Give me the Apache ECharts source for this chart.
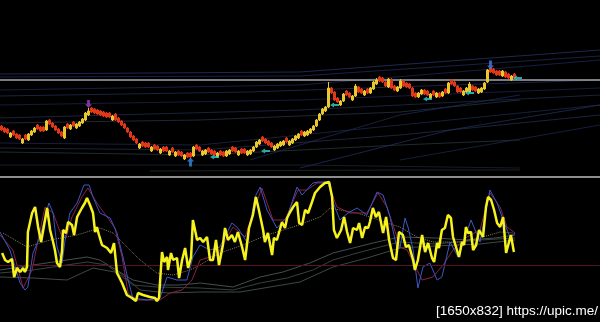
<!DOCTYPE html>
<html><head><meta charset="utf-8">
<script src="https://cdn.jsdelivr.net/npm/echarts@6.0.0/dist/echarts.min.js"></script>
<style>html,body{margin:0;padding:0;background:#000;}#c{width:600px;height:322px;}</style>
</head><body><div id="c"></div>
<script>
// ---- candle data (bar index 0..171) ----
const opens = [74,72,71,63,69,66,65,57,65,60, 65,68,75,73,73,70,80,77,74,71, 68,62,76,71,78,72,74,77,80,85,
 92,91,90,89,88,87,87,80,86,82, 79,76,72,68,64,61,52,58,57,57, 49,55,54,47,53,53,45,52,44,49,
 48,41,47,47,44,55,53,45,46,52, 50,49,43,49,48,44,46,53,52,45, 51,51,45,46,49,53,56,63,61,59,
 57,50,52,54,55,62,55,57,60,62, 69,64,65,67,70,74,80,86,89,93, 112,108,102,95,99,109,107,100,104,113,
 111,105,111,107,111,116,123,122,118,113, 120,114,109,112,119,117,116,112,107,103, 106,110,109,102,109,103,107,104,111,107,
 120,118,114,112,105,108,108,114,113,107, 108,111,118,132,131,129,129,124,128,126, 120,126];
const closes = [70,68,67,67,65,62,61,61,61,66, 69,72,71,69,69,79,76,73,70,67, 64,73,72,75,74,76,78,81,87,89,
 88,87,86,85,84,83,83,84,80,78, 75,72,68,63,60,57,56,54,53,53, 53,51,50,51,49,49,49,48,48,45,
 44,45,43,43,53,51,49,49,50,48, 46,45,47,45,44,49,50,49,48,49, 47,47,49,50,53,58,60,59,57,55,
 53,54,56,58,59,58,59,61,64,66, 65,68,69,71,74,80,86,91,93,112, 107,100,98,99,106,105,103,104,114,108,
 107,109,107,112,118,120,119,118,114,121, 112,110,113,119,114,113,112,104,103,107, 110,106,105,106,105,107,103,108,107,117,
 116,114,108,108,109,112,116,110,109,111, 112,117,130,128,127,125,125,129,123,122, 124,122];
const lows = [69,67,66,62,64,61,60,56,60,59, 64,67,70,68,68,69,75,72,69,66, 63,61,71,70,73,71,73,76,79,84,
 87,86,85,84,83,82,82,79,79,77, 74,71,67,62,59,56,51,53,52,52, 48,50,49,46,48,48,44,47,43,44,
 43,40,42,41,43,50,48,44,45,47, 45,44,42,44,43,43,45,48,47,44, 46,46,44,45,48,52,55,58,56,54,
 52,49,51,53,54,57,54,56,59,61, 64,63,64,66,69,73,79,85,88,92, 106,99,97,94,98,104,102,99,103,107,
 106,104,106,106,110,115,118,117,113,112, 111,109,108,111,113,112,111,103,102,102, 105,105,104,101,104,102,102,103,106,106,
 115,113,107,107,104,107,107,109,108,106, 107,110,117,127,126,124,124,123,122,121, 119,121];
const highs = [75,73,72,68,70,67,66,62,66,67, 70,73,76,74,74,80,81,78,75,72, 69,74,77,76,79,77,79,82,88,92,
 93,92,91,90,89,88,88,85,87,83, 80,77,73,69,65,62,57,59,58,58, 54,56,55,52,54,54,50,53,49,50,
 49,46,48,48,54,56,54,50,51,53, 51,50,48,50,49,50,51,54,53,50, 52,52,50,51,54,59,61,64,62,60,
 58,55,57,59,60,63,60,62,65,67, 70,69,70,72,75,81,87,92,94,118, 113,109,103,100,107,110,108,105,116,114,
 112,110,112,113,119,122,124,123,119,122, 122,115,114,121,120,118,117,113,108,108, 111,111,110,107,110,108,108,109,112,118,
 121,119,115,113,110,113,118,115,114,112, 113,118,131,133,132,130,130,130,129,127, 125,127];

// signal arrows [bar, price]
const upArrows = [[63,38]];
const downArrows = [[163,135]];
const peakMarks = [[29,96]];
const sideArrows = [[71,43],[88,49],[111,95],[142,101],[156,107],[172,122]];

// faint channel / average lines [bar, price]
const chanA = [[0,126],[100,128],[200,150]];
const chanB = [[0,123],[100,124],[200,144]];
const chanC = [[0,110],[100,115],[200,140]];
const chanD = [[0,104],[83,108],[200,120]];
const chanE = [[0,95],[100,100],[200,112]];
const chanF = [[0,82],[100,90],[200,105]];
const chanG = [[0,77],[66.7,80],[133.3,88],[173.3,100]];
const chanH = [[0,57],[66.7,55],[133.3,75],[200,95]];
const chanI = [[0,52],[66.7,50],[133.3,65],[200,85]];
const chanJ = [[0,48],[66.7,45],[133.3,55],[173.3,60]];
const chanK = [[0,35],[100,35],[173.3,32]];
const chanL = [[50,29],[133.3,30],[173.3,30]];
const chanM = [[83.3,40],[133.3,85],[173.3,105]];
const chanN = [[100,32],[150,70],[200,95]];
const chanO = [[133.3,40],[200,75]];
const refLevel = 120;

// oscillator panel [bar, value]
const yellowOsc = [[0.7,57],[1.7,50],[2.7,48],[4,51],[4.7,33],[5.7,42],[6.7,38],[7.7,42],[8.3,38],[9,43],[9.3,78],[10.7,97],[11.7,103],[12.7,83],[13.7,68],[14.3,78],[15.7,102],[16.7,80],[17.7,68],[18.3,60],[19,47],[20,43],[20.7,60],[21,80],[22,77],[22.7,88],[24,85],[24.7,75],[25.7,93],[27.3,102],[28.3,107],[29,112],[30,105],[31,97],[31.7,78],[32.3,83],[33,75],[34,65],[35.7,62],[37,57],[38,67],[39,37],[40.7,27],[42.3,15],[44,12],[45.3,9],[46,17],[47.7,15],[50,13],[51.7,12],[52.3,9],[53,12],[54,58],[54.7,48],[55.7,53],[56,40],[57,57],[57.7,50],[59,52],[59.7,32],[60.7,50],[61.7,62],[62.7,42],[63.7,53],[64.3,90],[65.7,70],[66.7,72],
 [67.7,68],[69,73],[70,50],[71,50],[72,70],[73,45],[74.3,65],[75,82],[76,70],[77.3,75],[78.3,68],[79.3,78],[80.7,63],[81.7,50],[83,82],[84.3,95],[85.3,113],[86.3,100],[87.7,80],[88.3,68],[89.3,77],[90.7,55],[91.3,72],[92.3,70],[94,88],[95,82],[95.7,92],[96.7,98],[97.7,103],[99,108],[99.7,87],[100.7,85],[101.7,100],[102.7,97],[104,108],[105,117],[106.7,123],[108.3,127],[109.7,128],[110.7,113],[111.3,80],[112.3,72],[113.7,80],[114.7,93],[115.7,78],[116.7,67],[117.7,82],[119,80],[119.7,87],[120.7,72],[121.7,83],[122.7,82],[123.3,88],[124.3,102],[125.3,93],[126.3,98],[127.7,77],[128.7,93],[129.7,70],[131,52],[132,50],[133,78],
 [134.3,75],[135.3,63],[136.3,65],[137.7,50],[138.3,40],[139.3,50],[140.7,75],[141.7,58],[142.7,67],[144,52],[144.7,48],[145.7,67],[146.3,62],[147.3,80],[148.3,82],[149.3,95],[150.3,92],[151,73],[152.3,60],[153,53],[154,68],[154.7,65],[155.3,83],[156,77],[157,78],[157.7,60],[158.7,65],[159.7,80],[161,73],[162,103],[162.7,113],[163.7,110],[164.7,100],[165.7,87],[166.7,83],[167.7,93],[168.7,57],[169.3,57],[170.3,75],[171.3,58]];
const blueOsc = [[0,78],[3.3,60],[6.7,27],[8.3,20],[9.3,23],[11,57],[13.3,73],[16.3,107],[17.7,97],[19,63],[20.7,47],[21.7,70],[23.3,97],[25.7,107],[28,125],[29.7,125],[31,113],[33.3,97],[36.7,92],[39,77],[41,53],[42.7,30],[44.3,12],[49,10],[53.3,12],[55.7,33],[59,30],[62.3,30],[64.3,53],[66.7,65],[70,60],[73.3,63],[77.3,87],[79.3,82],[82.3,68],[85,113],[86.7,123],[89,100],[92.3,82],[95.7,93],[99,123],[100.7,115],[104.3,127],[106,128],[109.3,128],[111,108],[113.3,90],[116,97],[119,102],[122.3,95],[125.7,118],[127.7,115],[130,93],[132.3,62],[133.3,62],[135,92],[136,83],[137.7,60],[139.3,22],[141,43],[143.3,47],[145.7,30],[147.3,33],[150,68],[152.7,53],[157,90],[160,68],[163.3,120],[165.7,107],[167.7,90],[170,73],[171.7,77]];
const redOsc = [[0,75],[4.3,60],[7.7,22],[10.7,40],[12.7,70],[15,103],[17.7,97],[20.7,73],[22.3,75],[24,93],[27.3,113],[29.3,122],[32.3,107],[35.7,93],[38.3,82],[40.7,53],[42.7,17],[45.7,10],[53.3,10],[56.7,17],[60.7,20],[64,30],[66.7,50],[72.3,55],[77.7,83],[81.7,73],[85,103],[87.3,122],[91,90],[95,90],[99.3,120],[102.3,120],[105.7,127],[109.3,127],[112.3,103],[116.7,97],[122.3,97],[126,117],[129,103],[132.3,73],[133.3,63],[135.7,60],[139,40],[140.7,30],[144.3,33],[147.7,45],[151,60],[155.7,73],[160,80],[163.3,117],[166.7,103],[169,83],[171.7,77]];
const dottedOsc = [[1,77],[9,63],[16.7,70],[25.7,75],[33.3,82],[37.7,77],[42.3,63],[46.7,50],[52.3,37],[57.7,35],[63.3,40],[66.7,45],[73.3,57],[81,65],[89,75],[97.7,83],[106.7,93],[110,102],[113.3,100],[119,97],[124.3,92],[129,87],[133.3,83],[139,73],[144.3,68],[153.3,68],[161,73],[166.7,78],[171,77]];
const grayOsc1 = [[0,40],[11,45],[29,53],[33.3,50],[44.3,30],[52.3,25],[60,25],[66.7,27],[77.7,23],[86.7,33],[94.3,38],[103.3,47],[111,57],[119,63],[125.7,68],[133.3,73],[145,72],[155.7,70],[165,72],[171.7,75]];
const grayOsc2 = [[0,37],[11,40],[29,48],[35.7,45],[44.3,25],[52.3,23],[66.7,22],[77.7,20],[86.7,27],[95.7,32],[104.3,40],[111,50],[119,57],[126.7,63],[133.3,68],[145,66],[160,70],[171.7,72]];
const grayOsc3 = [[0,33],[11,32],[22.3,30],[31,42],[40,37],[46.7,20],[55.7,17],[66.7,18],[80,18],[100,28],[111,43],[122.3,52],[133.3,62],[145,64],[160,66],[171.7,70]];
const oscLevel = 45;
const separatorLevel = 133;

const categories = Array.from({length:200}, (_, i) => String(i + 1));
const candles = opens.map((o, i) => [o, closes[i], lows[i], highs[i]]);

const chart = echarts.init(document.getElementById('c'), null, {renderer:'canvas'});
function faint(data, color) {
  return {type:'line', xAxisIndex:1, yAxisIndex:0, data, symbol:'none', silent:true,
    lineStyle:{color, width:1, opacity:0.75}, z:1};
}
function osc(data, color, width, type, z) {
  return {type:'line', xAxisIndex:2, yAxisIndex:1, data, symbol:'none', silent:true,
    lineStyle:{color, width, type: type || 'solid'}, z: z || 2};
}
const arrowPath = 'path://M5,0 L10,5 L7,5 L7,11 L3,11 L3,5 L0,5 Z';
chart.setOption({
  animation:false,
  backgroundColor:'#000',
  grid:[{left:0, right:0, top:40, height:137}, {left:0, right:0, top:177, height:133}],
  xAxis:[
    {type:'category', gridIndex:0, data:categories, boundaryGap:true, show:false},
    {type:'value', gridIndex:0, min:0, max:200, show:false},
    {type:'value', gridIndex:1, min:0, max:200, show:false}
  ],
  yAxis:[
    {type:'value', gridIndex:0, min:23, max:160, show:false, splitLine:{show:false}},
    {type:'value', gridIndex:1, min:0, max:133, show:false, splitLine:{show:false}}
  ],
  series:[
    faint(chanA,'#28356a'), faint(chanB,'#222c5c'), faint(chanC,'#1d2858'), faint(chanD,'#243058'),
    faint(chanE,'#1c2650'), faint(chanF,'#232d50'), faint(chanG,'#2a3448'), faint(chanH,'#1f2a52'),
    faint(chanI,'#253050'), faint(chanJ,'#2a3a3c'), faint(chanK,'#20263a'), faint(chanL,'#24302c'),
    faint(chanM,'#1e2c58'), faint(chanN,'#233060'), faint(chanO,'#1f2850'),
    {type:'candlestick', xAxisIndex:0, yAxisIndex:0, data:candles, barWidth:1.6, z:5,
      itemStyle:{color:'#e8c82c', color0:'#e2381a', borderColor:'#e8c82c', borderColor0:'#e2381a', borderWidth:1},
      markLine:{silent:true, symbol:'none', label:{show:false},
        lineStyle:{color:'#a4a4ac', width:1.5, type:'solid'}, data:[{yAxis:refLevel}]}},
    {type:'scatter', xAxisIndex:0, yAxisIndex:0, data:upArrows, symbol:arrowPath, symbolSize:[7,9], itemStyle:{color:'#3a90e6'}, z:6, silent:true},
    {type:'scatter', xAxisIndex:0, yAxisIndex:0, data:downArrows, symbol:arrowPath, symbolRotate:180, symbolSize:[7,9], itemStyle:{color:'#4a7ee8'}, z:6, silent:true},
    {type:'scatter', xAxisIndex:0, yAxisIndex:0, data:peakMarks, symbol:arrowPath, symbolRotate:180, symbolSize:[7,8], itemStyle:{color:'#a040c8'}, z:6, silent:true},
    {type:'scatter', xAxisIndex:0, yAxisIndex:0, data:sideArrows, symbol:arrowPath, symbolRotate:90, symbolSize:[5,9], itemStyle:{color:'#30d0d0'}, z:6, silent:true},
    osc(grayOsc1,'#444e52',1), osc(grayOsc2,'#36423f',1), osc(grayOsc3,'#3e4846',1),
    osc(dottedOsc,'#8a7a5a',1,'dotted'),
    osc(redOsc,'#8a2244',1),
    osc(blueOsc,'#3a58c4',1,'solid',3),
    Object.assign(osc(yellowOsc,'#f6f21e',2.5,'solid',5), {
      markLine:{silent:true, symbol:'none', label:{show:false}, data:[
        {yAxis:oscLevel, lineStyle:{color:'#5a1228', width:1, type:'solid'}},
        {yAxis:separatorLevel, lineStyle:{color:'#8e8e8e', width:2, type:'solid'}}
      ]}})
  ],
  graphic:[{type:'text', right:2, bottom:4, z:100, style:{text:'[1650x832] https://upic.me/', fill:'#ffffff', font:'13.5px "Liberation Sans"'}}]
});
</script></body></html>
